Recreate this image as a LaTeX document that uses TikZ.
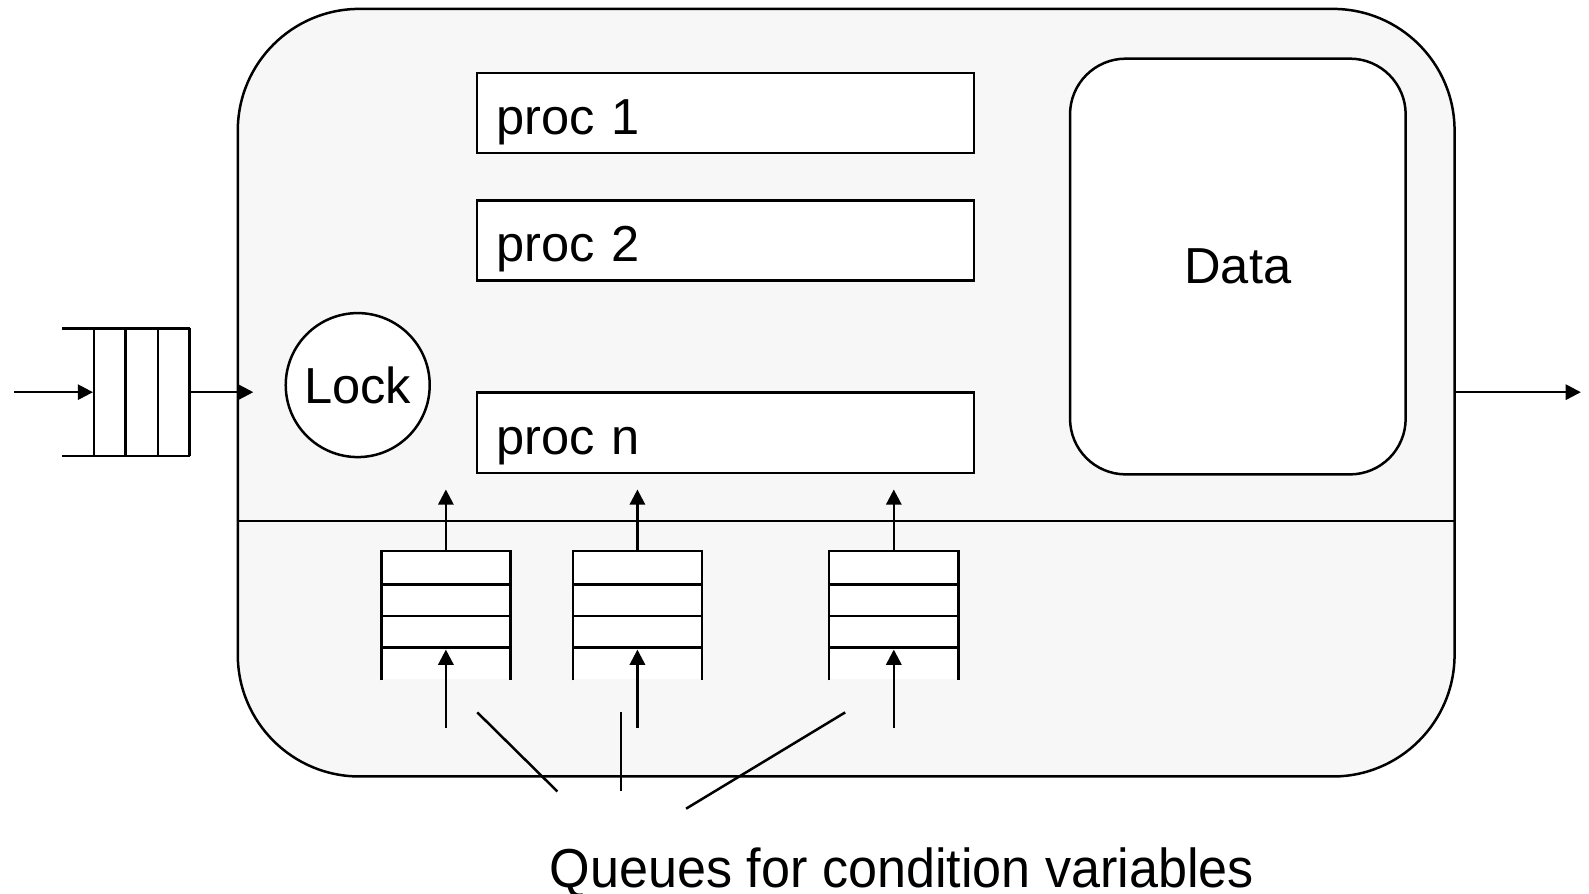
\documentclass[tikz,border=0pt]{standalone}
\usepackage{fontspec}
\setmainfont{Liberation Sans}
\newfontfamily\narrowfont[FakeStretch=0.95]{Liberation Sans}
\usetikzlibrary{positioning, arrows.meta}

\begin{document}
\begin{tikzpicture}[
        x=0.01cm, y=-0.01cm,
        % Boxes inside the monitor
        procbox/.style={
                rectangle, draw, fill=white,
                minimum width=4.9cm, minimum height=0.79cm,
                text width=4.52cm, align=left, inner xsep=0.19cm, inner ysep=0pt,
                text height=0.5cm, text depth=0.08cm,
                font=\fontsize{14.2}{17}\selectfont
            },
        % Arrow style
        >={Triangle[length=0.15cm, width=0.15cm]},
        line width=0.7pt
    ]
    \useasboundingbox (0,0) rectangle (1568,882);

    %% ---- Monitor body ----
    \node[draw, rounded corners=1.2cm, fill=black!3,
        minimum width=12cm, minimum height=7.57cm] (monitor) at (835,387.5) {};
    \draw (monitor.west |- 0,514) -- (monitor.east |- 0,514);

    %% ---- Procedures, lock, data ----
    \node[procbox] (proc1) at (716,111.5) {proc 1};
    \node[procbox] (proc2) at (716,237.5) {proc 2};
    \node[procbox] (procn) at (716,427) {proc n};
    \node[circle, draw, fill=white, minimum size=1.42cm, inner sep=0pt,
        font=\fontsize{14.2}{17}\selectfont] (lock) at (353,380) {Lock};
    \node[draw, fill=white, rounded corners=0.55cm,
        minimum width=3.31cm, minimum height=4.1cm,
        font=\fontsize{14.2}{17}\selectfont] (data) at (1221.5,263) {Data};

    %% ---- Entry queue ----
    \node[minimum width=0.94cm, minimum height=1.26cm, inner sep=0pt] (entry) at (140,387) {};
    \draw (61,324) -- (187,324) (61,450) -- (187,450);
    \foreach \x in {93,124,156,187}
        \draw (\x,324) -- (\x,450);
    \coordinate (in) at (14,387);
    \coordinate (enter) at (250,387);
    \coordinate (out) at (1560,387);
    \draw[->] (in) -- (entry.west);
    \draw[->] (entry.east) -- (enter);
    \draw[->] (monitor.east |- out) -- (out);

    %% ---- Condition variable queues ----
    \foreach \i/\x in {1/440, 2/629, 3/882} {
        \node[fill=white, minimum width=1.25cm, minimum height=1.25cm, inner sep=0pt]
            (cq\i) at (\x,607.5) {};
        \draw (cq\i.south west) -- (cq\i.north west) -- (cq\i.north east) -- (cq\i.south east);
        \foreach \y in {577,608,639}
            \draw (cq\i.west |- 0,\y) -- (cq\i.east |- 0,\y);
        \coordinate (top\i) at (\x,483);
        \coordinate (bot\i) at (\x,718);
        \draw[->] (cq\i.north) -- (top\i);
        \draw[->] (bot\i) -- (\x,641);
    }

    %% ---- Label ----
    \node[font=\narrowfont\fontsize{15.4}{18}\selectfont] (label) at (890,861) {Queues for condition variables};
    \coordinate (c1) at (471,703);
    \coordinate (c2) at (613,703);
    \coordinate (c3) at (834,703);
    \draw (c1) -- (550,781);
    \draw (c2) -- (613,781);
    \draw (c3) -- (677,798);

\end{tikzpicture}
\end{document}
